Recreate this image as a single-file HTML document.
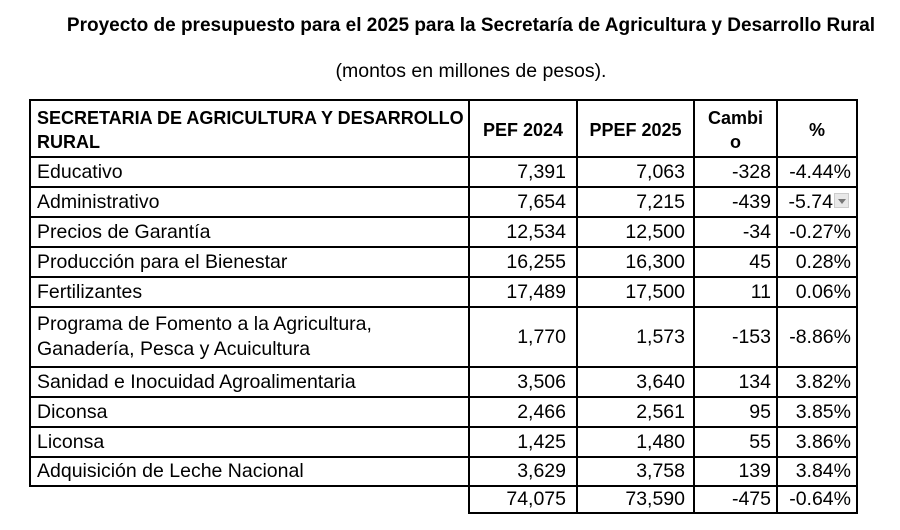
<!DOCTYPE html>
<html><head><meta charset="utf-8"><style>
body{margin:0;width:900px;height:530px;background:#fff;font-family:"Liberation Sans",Arial,sans-serif;color:#000;position:relative;overflow:hidden}
.t{position:absolute;white-space:nowrap}
.h{position:absolute;background:#000;height:2px}
.v{position:absolute;background:#000;width:2px}
.c{position:absolute;font-size:19.5px;white-space:nowrap;line-height:20px}
.r{text-align:right}
.b{font-weight:bold;font-size:18px}
</style></head><body>
<div class="t" style="font-weight:bold;left:0;width:942px;text-align:center;top:15px;font-size:19px">Proyecto de presupuesto para el 2025 para la Secretaría de Agricultura y Desarrollo Rural</div>
<div class="t" style="left:0;width:942px;text-align:center;top:60px;font-size:19.5px">(montos en millones de pesos).</div>

<div class="h" style="left:29px;width:829px;top:99px"></div>
<div class="h" style="left:29px;width:829px;top:156px"></div>
<div class="h" style="left:29px;width:829px;top:186px"></div>
<div class="h" style="left:29px;width:829px;top:216px"></div>
<div class="h" style="left:29px;width:829px;top:246px"></div>
<div class="h" style="left:29px;width:829px;top:276px"></div>
<div class="h" style="left:29px;width:829px;top:306px"></div>
<div class="h" style="left:29px;width:829px;top:366px"></div>
<div class="h" style="left:29px;width:829px;top:396px"></div>
<div class="h" style="left:29px;width:829px;top:426px"></div>
<div class="h" style="left:29px;width:829px;top:456px"></div>
<div class="h" style="left:29px;width:829px;top:485px"></div>
<div class="h" style="left:468px;width:390px;top:512px"></div>
<div class="v" style="left:29px;top:99px;height:388px"></div>
<div class="v" style="left:468px;top:99px;height:415px"></div>
<div class="v" style="left:576px;top:99px;height:415px"></div>
<div class="v" style="left:693px;top:99px;height:415px"></div>
<div class="v" style="left:776px;top:99px;height:415px"></div>
<div class="v" style="left:856px;top:99px;height:415px"></div>

<div class="c b" style="left:37px;top:106px;line-height:24px">SECRETARIA DE AGRICULTURA Y DESARROLLO<br>RURAL</div>
<div class="c b" style="left:470px;width:106px;text-align:center;top:120px">PEF 2024</div>
<div class="c b" style="left:578px;width:115px;text-align:center;top:120px">PPEF 2025</div>
<div class="c b" style="left:695px;width:81px;text-align:center;top:106px;line-height:24px">Cambi<br>o</div>
<div class="c b" style="left:778px;width:78px;text-align:center;top:120px">%</div>

<div class="c" style="left:37px;top:162px">Educativo</div>
<div class="c" style="left:37px;top:192px">Administrativo</div>
<div class="c" style="left:37px;top:222px">Precios de Garantía</div>
<div class="c" style="left:37px;top:252px">Producción para el Bienestar</div>
<div class="c" style="left:37px;top:282px">Fertilizantes</div>
<div class="c" style="left:37px;top:312px;line-height:25px">Programa de Fomento a la Agricultura,<br>Ganadería, Pesca y Acuicultura</div>
<div class="c" style="left:37px;top:372px">Sanidad e Inocuidad Agroalimentaria</div>
<div class="c" style="left:37px;top:402px">Diconsa</div>
<div class="c" style="left:37px;top:432px">Liconsa</div>
<div class="c" style="left:37px;top:461px">Adquisición de Leche Nacional</div>

<div id="n"></div>
<script>
var rows=[[162,"7,391","7,063","-328","-4.44%"],[192,"7,654","7,215","-439",""],[222,"12,534","12,500","-34","-0.27%"],[252,"16,255","16,300","45","0.28%"],[282,"17,489","17,500","11","0.06%"],[327,"1,770","1,573","-153","-8.86%"],[372,"3,506","3,640","134","3.82%"],[402,"2,466","2,561","95","3.85%"],[432,"1,425","1,480","55","3.86%"],[461,"3,629","3,758","139","3.84%"],[489,"74,075","73,590","-475","-0.64%"]];
var cols=[[470,96],[578,107],[695,76],[778,73]];
var h="";
rows.forEach(function(r){for(var i=0;i<4;i++){h+='<div class="c r" style="left:'+cols[i][0]+'px;width:'+cols[i][1]+'px;top:'+r[0]+'px">'+r[i+1]+'</div>';}});
h+='<div class="c r" style="left:778px;width:55px;top:192px">-5.74</div>';
h+='<div style="position:absolute;left:834px;top:193px;width:15px;height:15px;background:#e8e8e8;border:1px solid #ccc;box-sizing:border-box"><div style="position:absolute;left:3px;top:5px;border-left:4px solid transparent;border-right:4px solid transparent;border-top:5px solid #777"></div></div>';
document.getElementById("n").innerHTML=h;
</script>
</body></html>
